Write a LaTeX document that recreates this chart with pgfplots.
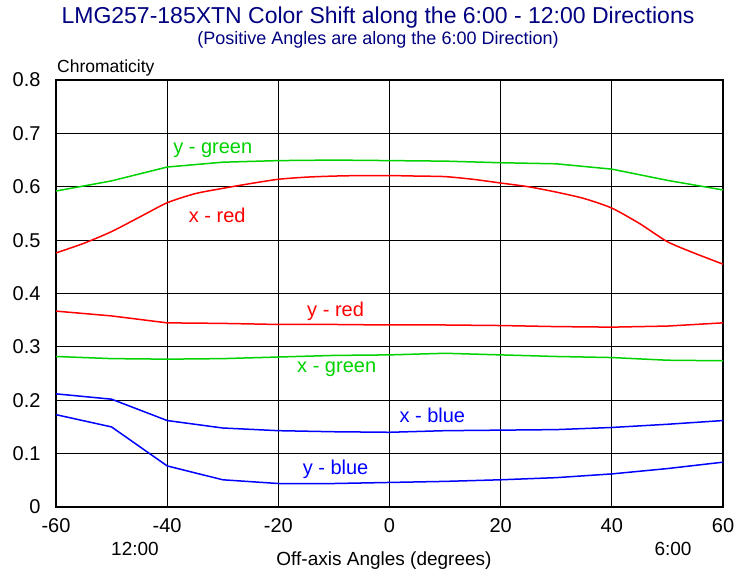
\documentclass[border=0pt]{standalone}
\usepackage{fontspec}
\setmainfont{Liberation Sans}
\usepackage{pgfplots}
\pgfplotsset{compat=1.18}
\definecolor{ttlblue}{RGB}{0,0,128}
\definecolor{cgreen}{RGB}{0,210,0}
\definecolor{cred}{RGB}{255,0,0}
\definecolor{cblue}{RGB}{0,0,255}
\newcommand{\fs}[1]{\fontsize{#1}{#1}\selectfont}

\begin{document}
\begin{tikzpicture}
\begin{axis}[
  name=ax,
  scale only axis,
  width=667pt, height=427pt,
  xmin=-60, xmax=60, ymin=0, ymax=0.8,
  xtick={-60,-40,...,60},
  xticklabels={-60,-40,-20,0,20,40,60},
  ytick={0,0.1,...,0.8},
  yticklabels={0,0.1,0.2,0.3,0.4,0.5,0.6,0.7,0.8},
  major tick length=0pt,
  tick label style={font=\fs{20}},
  xticklabel style={yshift=-8pt},
  yticklabel style={xshift=-12pt},
  grid=major,
  grid style={black, line width=1pt},
  axis line style={black, line width=1.5pt},
  clip=false,
  every axis plot/.append style={line width=1.5pt},
]
% y - green
\addplot[cgreen] coordinates {
  (-60,0.592) (-50,0.611) (-40,0.637) (-30,0.646) (-20,0.649) (-10,0.650)
  (0,0.649) (10,0.648) (20,0.645) (30,0.643) (40,0.633) (50,0.612) (60,0.594)
};
% x - red
\addplot[cred, smooth, tension=0.4] coordinates {
  (-60,0.476) (-55,0.494) (-50,0.516) (-45,0.543) (-40,0.570) (-35,0.587)
  (-30,0.597) (-25,0.606) (-20,0.614) (-15,0.618) (-10,0.620) (-5,0.621)
  (0,0.621) (5,0.620) (10,0.619) (15,0.614) (20,0.607) (25,0.600)
  (30,0.590) (35,0.578) (40,0.560) (45,0.531) (50,0.497) (55,0.475) (60,0.455)
};
% y - red
\addplot[cred] coordinates {
  (-60,0.367) (-50,0.358) (-40,0.345) (-30,0.344) (-20,0.342) (-10,0.342)
  (0,0.341) (10,0.341) (20,0.340) (30,0.338) (40,0.337) (50,0.339) (60,0.345)
};
% x - green
\addplot[cgreen] coordinates {
  (-60,0.282) (-50,0.278) (-40,0.277) (-30,0.278) (-20,0.281) (-10,0.284)
  (0,0.285) (10,0.288) (20,0.285) (30,0.282) (40,0.280) (50,0.275) (60,0.274)
};
% x - blue
\addplot[cblue] coordinates {
  (-60,0.212) (-50,0.202) (-40,0.162) (-30,0.148) (-20,0.143) (-10,0.141)
  (0,0.140) (10,0.143) (20,0.144) (30,0.145) (40,0.149) (50,0.155) (60,0.162)
};
% y - blue
\addplot[cblue] coordinates {
  (-60,0.173) (-50,0.150) (-40,0.077) (-30,0.051) (-20,0.044) (-10,0.044)
  (0,0.046) (10,0.048) (20,0.051) (30,0.055) (40,0.062) (50,0.072) (60,0.084)
};

\node[cgreen, font=\fs{20}] at (axis cs:-31.8,0.668) {y - green};
\node[cred,   font=\fs{20}] at (axis cs:-31,0.547) {x - red};
\node[cred,   font=\fs{20}] at (axis cs:-9.7,0.367) {y - red};
\node[cgreen, font=\fs{20}] at (axis cs:-9.5,0.259) {x - green};
\node[cblue,  font=\fs{20}] at (axis cs:7.7,0.172) {x - blue};
\node[cblue,  font=\fs{20}] at (axis cs:-9.7,0.071) {y - blue};
\end{axis}

\path (ax.south west) ++(-56pt,-64pt) coordinate (bl);
\path (ax.south west) ++(695pt,507pt) coordinate (tr);
\path (bl) rectangle (tr);

\node[ttlblue, font=\fs{23}, anchor=base] at ([shift={(322pt,483pt)}]ax.south west)
  {LMG257-185XTN Color Shift along the 6:00 - 12:00 Directions};
\node[ttlblue, font=\fs{18}, anchor=base] at ([shift={(322pt,462pt)}]ax.south west)
  {(Positive Angles are along the 6:00 Direction)};
\node[font=\fs{17.5}, anchor=base west, inner sep=0pt] at ([shift={(1pt,434pt)}]ax.south west)
  {Chromaticity};
\node[font=\fs{19}, anchor=base] at ([shift={(79pt,-48pt)}]ax.south west) {12:00};
\node[font=\fs{19}, anchor=base] at ([shift={(617pt,-48pt)}]ax.south west) {6:00};
\node[font=\fs{19}, anchor=base] at ([shift={(328pt,-58pt)}]ax.south west)
  {Off-axis Angles (degrees)};
\end{tikzpicture}
\end{document}
